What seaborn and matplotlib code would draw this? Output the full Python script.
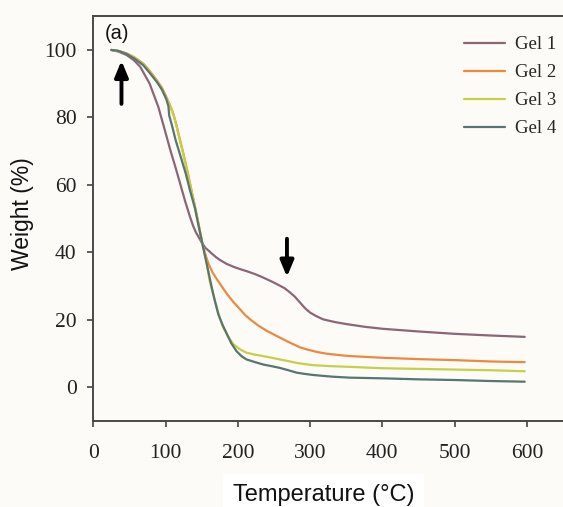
import numpy as np
import pandas as pd
import matplotlib
matplotlib.use("Agg")
import matplotlib.pyplot as plt
import seaborn as sns

# ---- data ----
gel1_T = [25, 35, 46, 56, 65, 78, 90, 99, 107, 114, 120, 127, 134, 138, 142, 146, 150, 155,
          160, 164, 170, 176, 185, 195, 203, 212, 224, 235, 247, 258, 265, 272, 279, 286, 293,
          300, 309, 318, 334, 350, 375, 400, 450, 500, 550, 597]
gel1_W = [100, 99.5, 98.5, 97.0, 95.0, 90.0, 83.1, 76.2, 70.0, 65.0, 60.5, 55.2, 50.4, 47.9,
          45.9, 44.4, 42.9, 41.3, 40.4, 39.6, 38.5, 37.6, 36.5, 35.6, 35.0, 34.4, 33.5, 32.5,
          31.3, 30.1, 29.3, 28.1, 26.8, 25.1, 23.4, 22.1, 21.0, 20.1, 19.3, 18.7, 17.9, 17.3,
          16.5, 15.8, 15.3, 14.9]

gel2_T = [25, 35, 46, 57, 69, 78, 88, 95, 101, 106, 111, 115, 119, 125, 131, 137, 142, 147,
          152, 159, 165, 171, 178, 185, 194, 203, 210, 217, 228, 240, 258, 268, 277, 286, 295,
          310, 323, 340, 355, 400, 450, 500, 550, 597]
gel2_W = [100, 99.7, 99.0, 97.8, 96.0, 93.8, 91.0, 88.8, 86.1, 83.7, 80.9, 77.8, 74.2, 69.0,
          63.3, 57.3, 52.3, 47.0, 41.5, 36.8, 34.0, 32.0, 29.8, 27.6, 25.2, 23.1, 21.4, 20.1,
          18.3, 16.7, 14.7, 13.6, 12.7, 11.8, 11.2, 10.4, 9.9, 9.5, 9.2, 8.7, 8.3, 8.0, 7.6, 7.4]

gel3_T = [25, 35, 46, 57, 69, 78, 88, 95, 101, 106, 111, 115, 119, 125, 131, 137, 142, 147,
          152, 155, 158, 161, 166, 171, 175, 180, 187, 194, 203, 212, 224, 235, 247, 258, 270,
          281, 293, 304, 330, 355, 400, 450, 500, 550, 597]
gel3_W = [100, 99.7, 98.9, 97.6, 95.8, 93.5, 90.8, 88.5, 85.8, 83.4, 80.6, 77.5, 73.9, 68.7,
          63.0, 57.0, 52.0, 46.8, 41.5, 38.8, 35.5, 31.5, 27.3, 23.6, 20.5, 17.6, 14.8, 12.7,
          11.2, 10.2, 9.6, 9.2, 8.7, 8.2, 7.7, 7.2, 6.8, 6.5, 6.2, 6.0, 5.6, 5.4, 5.2, 5.0, 4.7]

gel4_T = [25, 35, 46, 57, 69, 78, 88, 95, 101, 104, 105, 109, 114, 121, 128, 134, 141, 146,
          152, 155, 160, 164, 168, 173, 179, 185, 191, 198, 205, 212, 224, 235, 247, 258, 270,
          281, 293, 304, 330, 355, 400, 450, 500, 550, 597]
gel4_W = [100, 99.7, 98.8, 97.4, 95.5, 93.2, 90.5, 88.2, 85.4, 83.3, 80.6, 77.5, 73.2, 68.3,
          63.3, 58.2, 52.8, 47.5, 41.5, 38.5, 33.5, 29.5, 25.8, 21.6, 18.4, 15.7, 13.0, 10.7,
          9.2, 8.2, 7.4, 6.7, 6.2, 5.7, 5.0, 4.3, 3.9, 3.6, 3.1, 2.8, 2.6, 2.3, 2.1, 1.8, 1.6]

series_names = ["Gel 1", "Gel 2", "Gel 3", "Gel 4"]
colors = ["#8b6677", "#ec8a3c", "#c6cf45", "#587572"]
x_ticks = [0, 100, 200, 300, 400, 500, 600]
y_ticks = [0, 20, 40, 60, 80, 100]

frames = []
for name, T, W in zip(series_names, [gel1_T, gel2_T, gel3_T, gel4_T],
                      [gel1_W, gel2_W, gel3_W, gel4_W]):
    frames.append(pd.DataFrame({"Temperature": T, "Weight": W, "Sample": name}))
df = pd.concat(frames, ignore_index=True)

# ---- style ----
sns.set_theme(style="ticks")
plt.rcParams["font.family"] = ["Liberation Sans", "DejaVu Sans"]
bg = "#fcfbf8"

fig = plt.figure(figsize=(5.63, 5.07), dpi=100, facecolor=bg)
ax = fig.add_axes([0.1657, 0.170, 0.8343, 0.798])
ax.set_facecolor(bg)

sns.lineplot(data=df, x="Temperature", y="Weight", hue="Sample", hue_order=series_names,
             palette=dict(zip(series_names, colors)), estimator=None, sort=False,
             linewidth=1.6, ax=ax)

ax.set_xlim(0, 650)
ax.set_ylim(-10, 110)
ax.set_xticks(x_ticks)
ax.set_yticks(y_ticks)
for lab in ax.get_xticklabels() + ax.get_yticklabels():
    lab.set_fontfamily("Liberation Serif")
    lab.set_fontsize(15.5)
    lab.set_color("#222222")
ax.tick_params(direction="out", length=4, width=1.2, color="#444444")
ax.tick_params(axis="x", pad=13)
ax.tick_params(axis="y", pad=8)

for side in ["left", "bottom", "top"]:
    ax.spines[side].set_color("#4a4a4a")
    ax.spines[side].set_linewidth(1.4)
ax.spines["right"].set_visible(False)

ax.set_xlabel("Temperature (°C)", fontsize=17, color="#111111",
              bbox=dict(facecolor="white", edgecolor="none", pad=7))
ax.xaxis.set_label_coords(0.491, -0.156)
ax.set_ylabel("Weight (%)", fontsize=16.5, color="#111111")
ax.yaxis.set_label_coords(-0.126, 0.512)

# legend
leg = ax.legend(loc="upper left", bbox_to_anchor=(0.789, 0.951), frameon=False,
                prop={"family": "Liberation Serif", "size": 13.5},
                handlelength=2.2, handletextpad=0.55, labelspacing=0.58,
                borderpad=0, borderaxespad=0)
for line in leg.get_lines():
    line.set_linewidth(1.6)

# annotations
ax.text(33, 104.8, "(a)", fontsize=14.5, ha="center", va="center", color="#111111")
ax.annotate("", xy=(39, 96.8), xytext=(39, 84),
            arrowprops=dict(arrowstyle="-|>,head_length=0.6,head_width=0.25",
                            color="black", lw=2.8, mutation_scale=16, shrinkA=0, shrinkB=0))
ax.annotate("", xy=(268, 32.7), xytext=(268, 44),
            arrowprops=dict(arrowstyle="-|>,head_length=0.6,head_width=0.25",
                            color="black", lw=2.8, mutation_scale=16, shrinkA=0, shrinkB=0))

fig.savefig("out.png", dpi=100, facecolor=bg)
